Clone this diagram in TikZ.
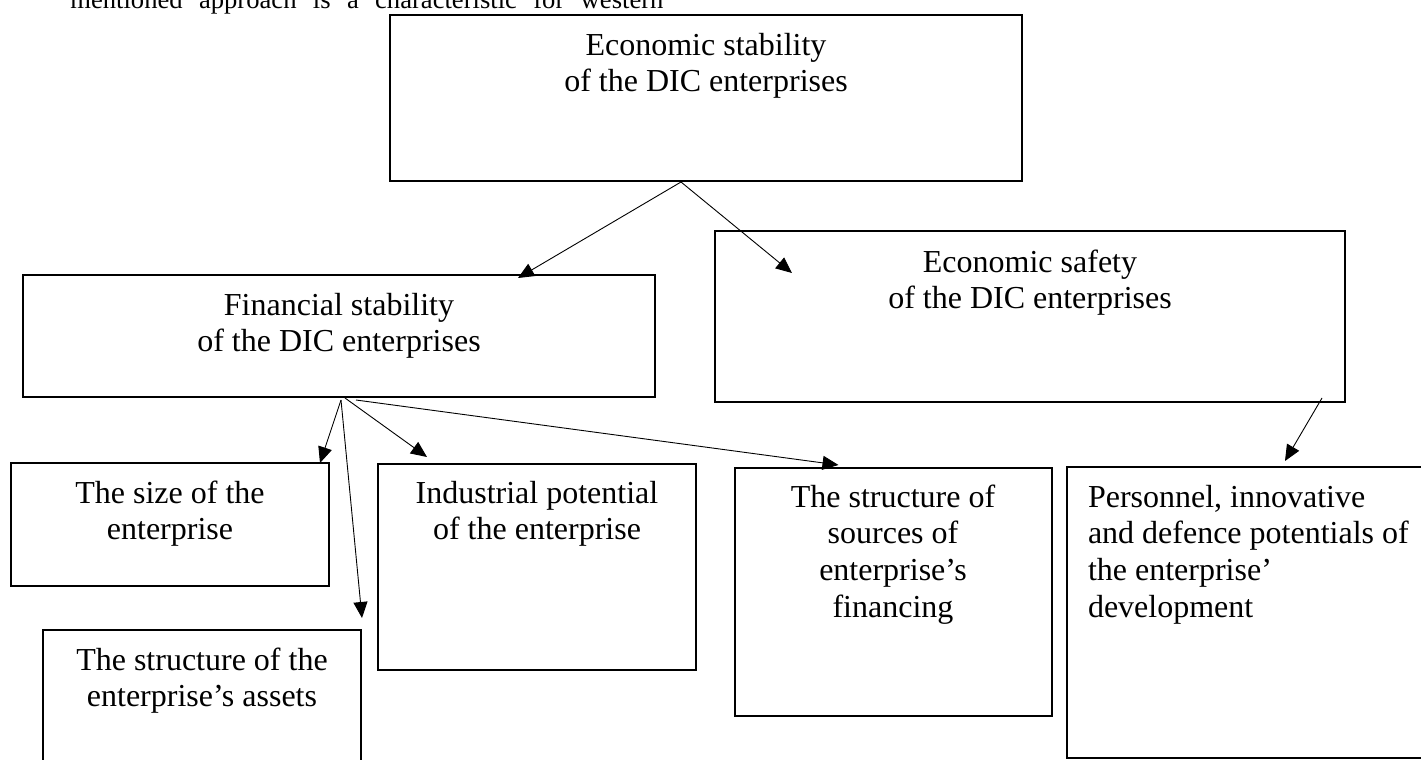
\documentclass[tikz,border=0pt]{standalone}
\usepackage{fontspec}
\setmainfont{Liberation Serif}
\usetikzlibrary{arrows.meta,calc}

\begin{document}
\begin{tikzpicture}[
  x=0.5pt, y=-0.5pt,
  box/.style={draw, line width=0.6pt, inner sep=0pt, outer sep=0pt, anchor=north west},
  lbl/.style={inner sep=0pt, outer sep=0pt, anchor=base,
              font=\fontsize{16pt}{18.4pt}\selectfont},
  arr/.style={line width=0.45pt, -{Triangle[length=8pt,width=7pt]}}
]
\useasboundingbox (0,0) rectangle (1421,760);
\clip (0,0) rectangle (1421,760);

% running text of the page, cut by the top edge
\node[anchor=base west, inner sep=0pt, font=\fontsize{13.3pt}{16pt}\selectfont] (intro) at (70,9)
  {\makebox[296.5pt][s]{mentioned approach is a characteristic for western}};

% frames
\node[box, minimum width=316pt,   minimum height=83pt]   (top)    at (390,15)   {};
\node[box, minimum width=316pt,   minimum height=61pt]   (fin)    at (23,275)   {};
\node[box, minimum width=315pt,   minimum height=85.5pt] (safe)   at (715,231)  {};
\node[box, minimum width=159pt,   minimum height=61.5pt] (size)   at (11,463)   {};
\node[box, minimum width=159pt,   minimum height=80pt]   (assets) at (43,630)   {};
\node[box, minimum width=159pt,   minimum height=103pt]  (ind)    at (378,464)  {};
\node[box, minimum width=158.5pt, minimum height=124pt]  (struct) at (735,468)  {};
\node[box, minimum width=190pt,   minimum height=145.5pt] (pers)  at (1067,467) {};

% labels
\node[lbl] (topT) at (706,55)
  {\parbox[t]{300pt}{\centering Economic stability\\of the DIC enterprises}};
\node[lbl] (finT) at (339,315)
  {\parbox[t]{300pt}{\centering Financial stability\\of the DIC enterprises}};
\node[lbl] (safeT) at (1030,272)
  {\parbox[t]{300pt}{\centering Economic safety\\of the DIC enterprises}};
\node[lbl] (sizeT) at (170,503)
  {\parbox[t]{150pt}{\centering The size of the\\enterprise}};
\node[lbl] (assetsT) at (202,670)
  {\parbox[t]{150pt}{\centering The structure of the\\enterprise’s assets}};
\node[lbl] (indT) at (537,503)
  {\parbox[t]{150pt}{\centering Industrial potential\\of the enterprise}};
\node[lbl] (structT) at (893,507)
  {\parbox[t]{150pt}{\centering The structure of\\sources of\\enterprise’s\\financing}};
\node[lbl, anchor=base west] (persT) at (1088,507)
  {\parbox[t]{170pt}{\raggedright Personnel, innovative\\and defence potentials of\\the enterprise’\\development}};

% connectors
\draw[arr] ($(top.south)+(-25,1)$) -- ($(fin.north)+(179,3)$);
\draw[arr] ($(top.south)+(-25,1)$) -- ($(safe.north)+(-238,42)$);
\draw[arr] ($(fin.south)+(2,3)$)   -- ($(size.north)+(150,0)$);
\draw[arr] ($(fin.south)+(2,3)$)   -- ($(assets.north)+(160,-12)$);
\draw[arr] ($(fin.south)+(6,1)$)   -- ($(ind.north)+(-110,-7)$);
\draw[arr] ($(fin.south)+(17,3)$)  -- ($(struct.north)+(-55,-3)$);
\draw[arr] ($(safe.south)+(292,-4)$) -- ($(pers.north west)+(218,-6)$);
\end{tikzpicture}
\end{document}
